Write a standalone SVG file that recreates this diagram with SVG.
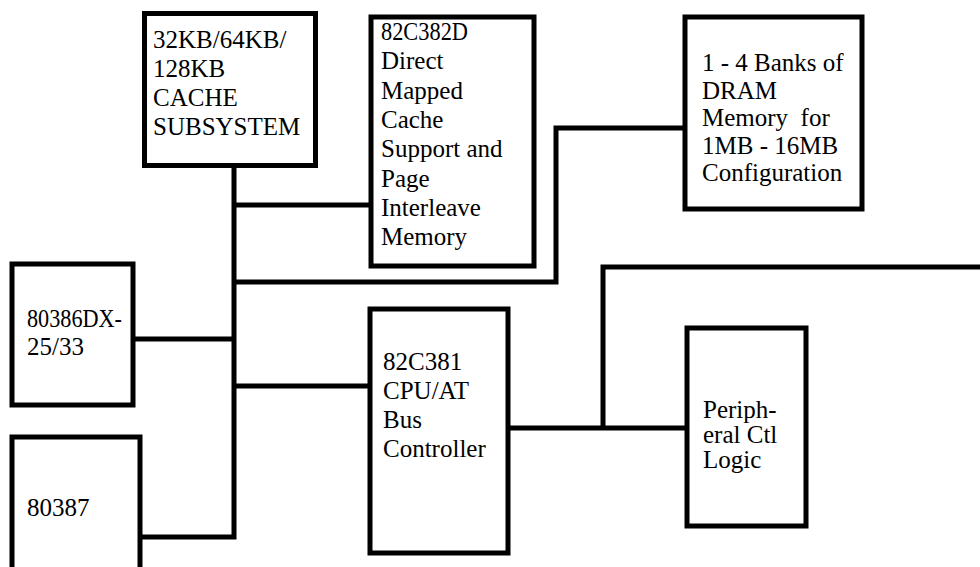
<svg xmlns="http://www.w3.org/2000/svg" width="980" height="567" viewBox="0 0 980 567">
<style>
.box{fill:#fff;stroke:#000;stroke-width:5}
.wire{fill:none;stroke:#000;stroke-width:5}
.t{font-family:'Liberation Serif','Times New Roman',serif;font-size:25px;fill:#000}
</style>
<rect width="980" height="567" fill="#fff"/>
<g id="connectors">
<path class="wire" d="M140 537 H234 V166"/>
<path class="wire" d="M234 205 H371"/>
<path class="wire" d="M234 282 H556 V128 H685"/>
<path class="wire" d="M133 339 H234"/>
<path class="wire" d="M234 386 H370"/>
<path class="wire" d="M508 428 H687"/>
<path class="wire" d="M603 428 V267 H980"/>
</g>
<g id="cache" class="t">
<rect class="box" x="144.5" y="13.5" width="171" height="152"/>
<text x="153" y="48">32KB/64KB/</text>
<text x="153" y="77">128KB</text>
<text x="153" y="106">CACHE</text>
<text x="153" y="135">SUBSYSTEM</text>
</g>
<g id="c382d" class="t">
<rect class="box" x="371" y="17" width="163" height="249"/>
<text x="381" y="40" textLength="87" lengthAdjust="spacingAndGlyphs">82C382D</text>
<text x="381" y="69.3">Direct</text>
<text x="381" y="98.6">Mapped</text>
<text x="381" y="127.9">Cache</text>
<text x="381" y="157.2">Support and</text>
<text x="381" y="186.5">Page</text>
<text x="381" y="215.8">Interleave</text>
<text x="381" y="245">Memory</text>
</g>
<g id="dram" class="t">
<rect class="box" x="685" y="17" width="177" height="192"/>
<text x="702" y="71">1 - 4 Banks of</text>
<text x="702" y="98.5">DRAM</text>
<text x="702" y="126" xml:space="preserve">Memory  for</text>
<text x="702" y="153.5">1MB - 16MB</text>
<text x="702" y="181">Configuration</text>
</g>
<g id="cpu" class="t">
<rect class="box" x="12" y="264" width="121" height="141"/>
<text x="27" y="327" textLength="95" lengthAdjust="spacingAndGlyphs">80386DX-</text>
<text x="27" y="355">25/33</text>
</g>
<g id="fpu" class="t">
<rect class="box" x="12" y="437" width="128" height="140"/>
<text x="27" y="516">80387</text>
</g>
<g id="c381" class="t">
<rect class="box" x="370" y="309" width="138" height="244"/>
<text x="383" y="370">82C381</text>
<text x="383" y="399">CPU/AT</text>
<text x="383" y="428">Bus</text>
<text x="383" y="457">Controller</text>
</g>
<g id="periph" class="t">
<rect class="box" x="687" y="328" width="119" height="198"/>
<text x="703" y="418">Periph-</text>
<text x="703" y="443">eral Ctl</text>
<text x="703" y="468">Logic</text>
</g>
</svg>
